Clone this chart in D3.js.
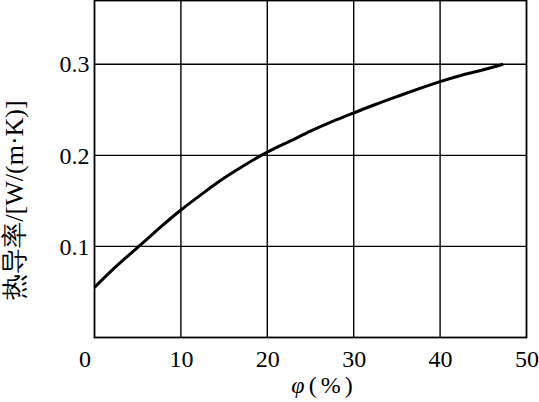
<!DOCTYPE html>
<html>
<head>
<meta charset="utf-8">
<script src="https://cdn.jsdelivr.net/npm/d3@7"></script>
<style>
  body { margin: 0; background: #fff; }
</style>
</head>
<body>
<div id="chart"></div>
<script>
var width = 539;
var height = 402;
var serif = "'Liberation Serif', 'Times New Roman', 'DejaVu Serif', serif";

// curve: moisture content (%) vs conductivity
var phiValues = [0, 2.5, 5, 7.5, 10, 12.5, 15, 17.5, 20, 22.5, 25, 27.5, 30, 32.5, 35, 37.5, 40, 42.5, 45, 47.3];
var kValues = [0.055, 0.078, 0.099, 0.120, 0.140, 0.158, 0.175, 0.190, 0.2035, 0.215, 0.2265, 0.237, 0.2465, 0.2558, 0.2645, 0.273, 0.281, 0.288, 0.294, 0.300];
var xTicks = [0, 10, 20, 30, 40, 50];
var yTicks = [0.1, 0.2, 0.3];

var margin = {top: 0.5, right: 12.5, bottom: 64.5, left: 94.5};

var svg = d3.select("#chart")
    .append("svg")
    .attr("width", width)
    .attr("height", height);

var x = d3.scaleLinear()
    .domain([0, 50])
    .range([margin.left, width - margin.right]);

var y = d3.scaleLinear()
    .domain([0, 0.37])
    .range([height - margin.bottom, margin.top]);

// grid
svg.append("g")
    .selectAll("line")
    .data(xTicks.slice(1, -1))
    .enter().append("line")
    .attr("x1", d => x(d)).attr("x2", d => x(d))
    .attr("y1", y.range()[1]).attr("y2", y.range()[0])
    .style("stroke", "#000")
    .style("stroke-width", 1.4);

svg.append("g")
    .selectAll("line")
    .data(yTicks)
    .enter().append("line")
    .attr("x1", x.range()[0]).attr("x2", x.range()[1])
    .attr("y1", d => y(d)).attr("y2", d => y(d))
    .style("stroke", "#000")
    .style("stroke-width", 1.4);

// frame
svg.append("rect")
    .attr("x", x.range()[0])
    .attr("y", y.range()[1])
    .attr("width", x.range()[1] - x.range()[0])
    .attr("height", y.range()[0] - y.range()[1])
    .style("fill", "none")
    .style("stroke", "#000")
    .style("stroke-width", 1.8);

// axes (labels only, the frame draws the lines)
var xAxis = svg.append("g")
    .attr("transform", "translate(0," + y.range()[0] + ")")
    .call(d3.axisBottom(x).tickValues(xTicks).tickSize(0).tickPadding(12).tickFormat(d3.format("d")));
xAxis.select(".domain").remove();
xAxis.attr("font-family", null).attr("font-size", null);
xAxis.selectAll("text")
    .style("font-family", serif)
    .style("font-size", "24px")
    .style("fill", "#000")
    .attr("dx", d => d === 0 ? -10 : 0);

var yAxis = svg.append("g")
    .attr("transform", "translate(" + x.range()[0] + ",0)")
    .call(d3.axisLeft(y).tickValues(yTicks).tickSize(0).tickPadding(5).tickFormat(d3.format(".1f")));
yAxis.select(".domain").remove();
yAxis.attr("font-family", null).attr("font-size", null);
yAxis.selectAll("text")
    .style("font-family", serif)
    .style("font-size", "24px")
    .style("fill", "#000");

// curve
var points = phiValues.map((p, i) => [p, kValues[i]]);
var line = d3.line()
    .curve(d3.curveNatural)
    .x(d => x(d[0]))
    .y(d => y(d[1]));

svg.append("path")
    .datum(points)
    .attr("d", line)
    .style("fill", "none")
    .style("stroke", "#000")
    .style("stroke-width", 3);

// axis titles
var xt = svg.append("text")
    .attr("x", 324)
    .attr("y", 393)
    .attr("text-anchor", "middle")
    .style("font-family", serif)
    .style("font-size", "24px");
xt.append("tspan").style("font-style", "italic").text("φ");
xt.append("tspan").attr("dx", 4).style("letter-spacing", "4px").text("(%)");

svg.append("text")
    .attr("transform", "translate(23,200) rotate(-90)")
    .attr("text-anchor", "middle")
    .style("font-family", serif)
    .style("font-size", "26px")
    .text("热导率/[W/(m·K)]");
</script>
</body>
</html>
